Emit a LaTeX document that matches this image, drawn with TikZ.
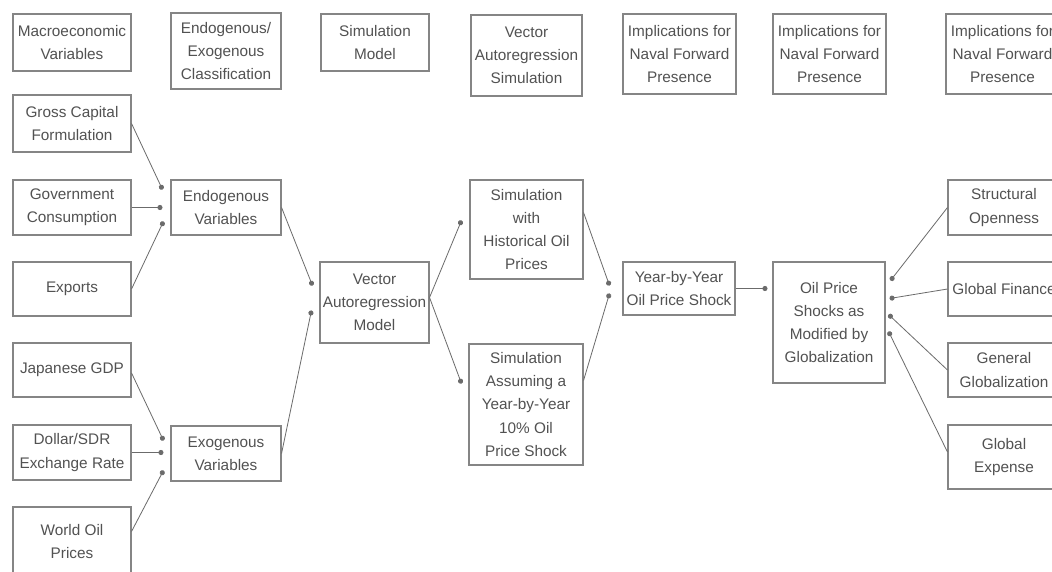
\documentclass[tikz,border=0pt]{standalone}
\usepackage{fontspec}
\setmainfont{Liberation Sans}
\usetikzlibrary{arrows.meta,calc}
\tikzset{
  box/.style={draw=black!48, line width=0.8pt, text=black!68, align=center, inner sep=0pt,
    font=\fontsize{11.5}{17.3}\selectfont},
  conn/.style={draw=black!58, line width=0.6pt, -{Circle[length=3.8pt]}}
}
\newcommand\bx[6]{\node[box, minimum width={(#4-#2)*0.75pt}, minimum height={(#5-#3)*0.75pt}] (#1) at ({(#2+#4)/2},{(#3+#5)/2}) {#6};}
\begin{document}
\begin{tikzpicture}[x=0.75pt,y=-0.75pt]
\useasboundingbox (0,0) rectangle (1052,571);
\clip (0,0) rectangle (1052,571);
\fill[white] (0,0) rectangle (1052,571);
% headers
\bx{h1}{13}{14}{131}{71}{Macroeconomic\\Variables}
\bx{h2}{171}{13}{281}{89}{Endogenous/\\Exogenous\\Classification}
\bx{h3}{321}{14}{429}{71}{Simulation\\Model}
\bx{h4}{471}{15}{582}{96}{Vector\\Autoregression\\Simulation}
\bx{h5}{623}{14}{736}{94}{Implications for\\Naval Forward\\Presence}
\bx{h6}{773}{14}{886}{94}{Implications for\\Naval Forward\\Presence}
\bx{h7}{946}{14}{1059}{94}{Implications for\\Naval Forward\\Presence}
% left column
\bx{gcf}{13}{95}{131}{152}{Gross Capital\\Formulation}
\bx{gov}{13}{180}{131}{235}{Government\\Consumption}
\bx{exp}{13}{262}{131}{316}{Exports}
\bx{jap}{13}{343}{131}{397}{Japanese GDP}
\bx{dol}{13}{425}{131}{480}{Dollar/SDR\\Exchange Rate}
\bx{wop}{13}{507}{131}{578}{\raisebox{8pt}{\begin{tabular}{@{}c@{}}World Oil\\Prices\end{tabular}}}
% classification
\bx{endo}{171}{180}{281}{235}{Endogenous\\Variables}
\bx{exo}{171}{426}{281}{481}{Exogenous\\Variables}
% model
\bx{var}{320}{262}{429}{343}{Vector\\Autoregression\\Model}
% simulations
\bx{simh}{470}{180}{583}{279}{Simulation\\with\\Historical Oil\\Prices}
\bx{sima}{469}{344}{583}{465}{Simulation\\Assuming a\\Year-by-Year\\10\% Oil\\Price Shock}
% shock
\bx{yby}{623}{262}{735}{315}{Year-by-Year\\Oil Price Shock}
\bx{ops}{773}{262}{885}{383}{Oil Price\\Shocks as\\Modified by\\Globalization}
% right column
\bx{so}{948}{180}{1060}{235}{Structural\\Openness}
\bx{gf}{948}{262}{1060}{316}{Global Finance}
\bx{gg}{948}{343}{1060}{397}{General\\Globalization}
\bx{ge}{948}{425}{1060}{489}{Global\\Expense}
% connectors: inputs to endogenous
\draw[conn] (gcf.east) -- ($(endo.west)+(-8,-18)$);
\draw[conn] (gov.east) -- ($(endo.west)+(-8,0)$);
\draw[conn] (exp.east) -- ($(endo.west)+(-7,14)$);
% inputs to exogenous
\draw[conn] ($(jap.east)+(0,3)$) -- ($(exo.west)+(-7,-13)$);
\draw[conn] (dol.east) -- ($(exo.west)+(-7,-1)$);
\draw[conn] ($(wop.north east)+(0,25)$) -- ($(exo.west)+(-7,17)$);
% to VAR
\draw[conn] (endo.east) -- ($(var.west)+(-7,-17)$);
\draw[conn] (exo.east) -- ($(var.west)+(-8,8)$);
% VAR to simulations
\draw[conn] ($(var.east)+(0,-5)$) -- ($(simh.west)+(-8,-9)$);
\draw[conn] ($(var.east)+(0,-5)$) -- ($(sima.west)+(-7,-21)$);
% simulations to year-by-year
\draw[conn] ($(simh.east)+(0,-17)$) -- ($(yby.west)+(-13,-3)$);
\draw[conn] ($(sima.east)+(0,-24)$) -- ($(yby.west)+(-13,5)$);
% year-by-year to oil price shocks
\draw[conn] (yby.east) -- ($(ops.west)+(-5,-34)$);
% right column into oil price shocks
\draw[conn] (so.west) -- ($(ops.east)+(5,-42)$);
\draw[conn] (gf.west) -- ($(ops.east)+(4,-24)$);
\draw[conn] (gg.west) -- ($(ops.east)+(3,-8)$);
\draw[conn] ($(ge.west)+(0,-5)$) -- ($(ops.east)+(3,9)$);
\end{tikzpicture}
\end{document}
